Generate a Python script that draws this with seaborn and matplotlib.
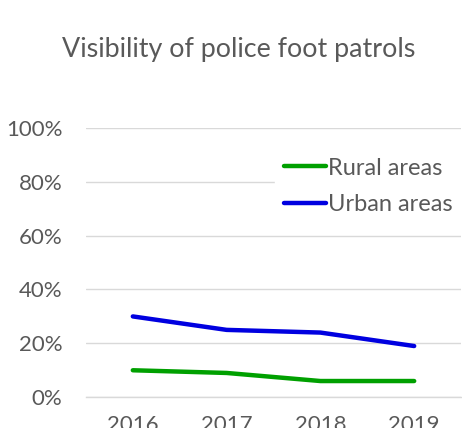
import matplotlib
matplotlib.use('Agg')
import matplotlib.pyplot as plt
import numpy as np
import pandas as pd
import seaborn as sns
from matplotlib.ticker import FixedLocator, PercentFormatter

years = ['2016', '2017', '2018', '2019']
rural = [0.10, 0.09, 0.06, 0.06]
urban = [0.30, 0.25, 0.24, 0.19]
series_names = ['Rural areas', 'Urban areas']
series_colors = ['#00A000', '#0000E0']

df = pd.DataFrame({
    'year': years * 2,
    'value': rural + urban,
    'series': [series_names[0]] * len(years) + [series_names[1]] * len(years),
})

sns.set_style('white')
plt.rcParams['font.family'] = ['Lato', 'DejaVu Sans']
grey = '#595959'

fig = plt.figure(figsize=(4.62, 4.28), dpi=100)
ax = fig.add_axes([0.186, 0.072, 0.812, 0.629])

sns.lineplot(data=df, x='year', y='value', hue='series', palette=series_colors,
             linewidth=3.2, ax=ax, legend=True, solid_capstyle='round')

ax.set_ylim(0, 1.0)
ax.set_xlim(-0.5, 3.5)
ax.yaxis.set_major_locator(FixedLocator(np.arange(0, 1.01, 0.2)))
ax.yaxis.set_major_formatter(PercentFormatter(1.0, decimals=0))
ax.grid(axis='y', color='#d9d9d9', linewidth=1)
ax.set_axisbelow(True)
for s in ['top', 'right', 'left']:
    ax.spines[s].set_visible(False)
ax.spines['bottom'].set_color('#d9d9d9')
ax.spines['bottom'].set_linewidth(1)

ax.xaxis.set_minor_locator(FixedLocator(np.arange(-0.5, 3.6, 1)))
ax.tick_params(axis='x', which='minor', length=10, color='#d9d9d9', width=1)
ax.tick_params(axis='x', which='major', length=0, pad=13, labelsize=16, labelcolor=grey)
ax.tick_params(axis='y', length=0, pad=17, labelsize=16, labelcolor=grey)
ax.set_xlabel('')
ax.set_ylabel('')

fig.text(0.516, 1 - 57 / 428, 'Visibility of police foot patrols', fontsize=19.4,
         color=grey, ha='center', va='baseline')

leg = ax.legend(loc='upper left', bbox_to_anchor=(0.504, 0.925), frameon=True,
                fontsize=17, handlelength=1.74, handletextpad=0.1,
                labelspacing=0.65, borderpad=0.4, borderaxespad=0,
                facecolor='white', edgecolor='white',
                framealpha=1.0, fancybox=False)
for t in leg.get_texts():
    t.set_color(grey)
for h in leg.get_lines():
    h.set_linewidth(3.2)

fig.savefig('out.png', dpi=100)
